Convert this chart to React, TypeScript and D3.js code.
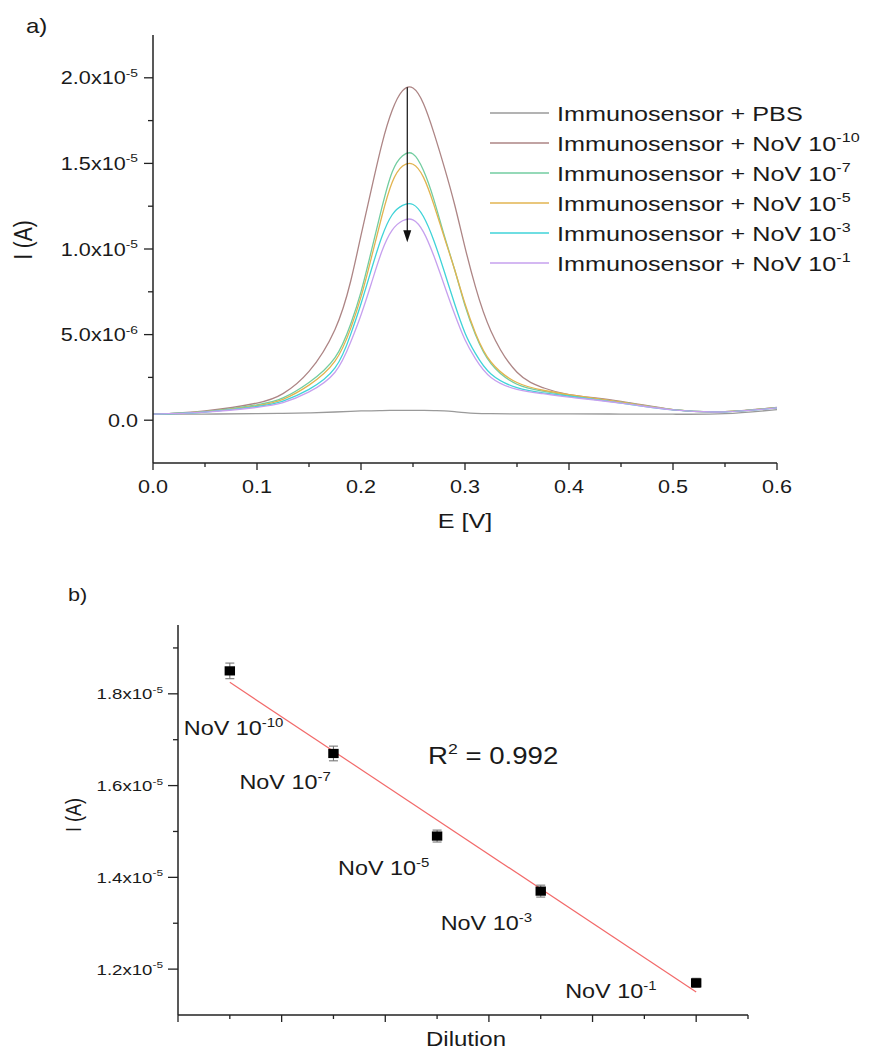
import React from "react";
import * as d3 from "d3";

// ---- a) DPV curves: potential (V) and current (µA) ----
const potentials = [0, 0.05, 0.1, 0.125, 0.15, 0.175, 0.19, 0.2, 0.21, 0.22, 0.23, 0.24, 0.25, 0.26, 0.27, 0.28, 0.29, 0.3, 0.31, 0.325, 0.35, 0.375, 0.4, 0.45, 0.5, 0.55, 0.6];
const pbs = [0.35, 0.36, 0.38, 0.4, 0.43, 0.48, 0.52, 0.54, 0.55, 0.56, 0.57, 0.57, 0.57, 0.57, 0.56, 0.55, 0.5, 0.44, 0.4, 0.38, 0.37, 0.37, 0.37, 0.36, 0.35, 0.38, 0.62];
const nov10 = [0.35, 0.55, 1.0, 1.55, 2.85, 5.3, 8.1, 10.8, 13.5, 16.1, 18.1, 19.25, 19.4, 18.5, 16.8, 14.8, 12.6, 10.1, 7.8, 5.2, 2.8, 1.9, 1.5, 1.1, 0.62, 0.5, 0.75];
const nov7 = [0.35, 0.5, 0.9, 1.3, 2.2, 3.65, 5.6, 7.5, 9.9, 12.4, 14.5, 15.45, 15.55, 14.6, 12.9, 10.8, 8.8, 6.7, 5.0, 3.3, 2.1, 1.7, 1.45, 1.05, 0.62, 0.5, 0.74];
const nov5 = [0.35, 0.5, 0.85, 1.22, 2.05, 3.45, 5.35, 7.2, 9.5, 11.9, 13.9, 14.85, 14.95, 14.2, 12.6, 10.7, 8.8, 6.8, 5.1, 3.4, 2.2, 1.75, 1.5, 1.05, 0.62, 0.5, 0.74];
const nov3 = [0.35, 0.48, 0.8, 1.12, 1.8, 3.05, 5.0, 6.8, 8.8, 10.7, 12.0, 12.55, 12.6, 11.9, 10.5, 8.7, 6.8, 5.1, 3.9, 2.7, 1.9, 1.6, 1.4, 1.0, 0.6, 0.49, 0.72];
const nov1 = [0.35, 0.47, 0.75, 1.02, 1.65, 2.8, 4.55, 6.15, 8.0, 9.85, 11.1, 11.65, 11.7, 11.0, 9.6, 7.9, 6.2, 4.7, 3.6, 2.5, 1.8, 1.55, 1.35, 1.0, 0.6, 0.49, 0.72];
const curveNames = ["Immunosensor + PBS", "Immunosensor + NoV 10", "Immunosensor + NoV 10", "Immunosensor + NoV 10", "Immunosensor + NoV 10", "Immunosensor + NoV 10"];
const curveExp = ["", "-10", "-7", "-5", "-3", "-1"];
const curveColors = ["#9a9a9a", "#ad8585", "#72cda0", "#e2b450", "#3fd3d8", "#c6a0ee"];

// ---- b) calibration: dilution vs. peak current ----
const dilutionNames = ["NoV 10", "NoV 10", "NoV 10", "NoV 10", "NoV 10"];
const dilutionExp = ["-10", "-7", "-5", "-3", "-1"];
const dilutionPos = [1, 3, 5, 7, 10];
const peakCurrent = [1.85e-5, 1.67e-5, 1.49e-5, 1.37e-5, 1.17e-5];
const peakError = [0.017e-5, 0.016e-5, 0.013e-5, 0.013e-5, 0.01e-5];
const rSquared = "0.992";

const FONT = '"Liberation Sans", Arial, Helvetica, sans-serif';
const SX = 1.2; // the original figure is stretched sideways
const AXIS = "#222";

function Txt({ x, y, size, text, sup, after, anchor = "start", rotate = 0 }: any) {
  const tr = `translate(${x},${y}) scale(${SX},1)` + (rotate ? ` rotate(${rotate})` : "");
  return (
    <g transform={tr}>
      <text fontFamily={FONT} fontSize={size} textAnchor={anchor} fill="#1a1a1a">
        {text}
        {sup ? (
          <tspan fontSize={size * 0.64} dy={-size * 0.42}>
            {sup}
          </tspan>
        ) : null}
        {after ? (
          <tspan fontSize={size} dy={size * 0.42}>
            {after}
          </tspan>
        ) : null}
      </text>
    </g>
  );
}

const sci = (v: number): [string, string] => {
  if (Math.abs(v) < 1e-12) return ["0.0", ""];
  const [m, e] = v.toExponential(1).split("e");
  return [m + "x10", String(+e)];
};

export default function App() {
  // scales for a)
  const xA = d3.scaleLinear().domain([0, 0.6]).range([153, 777]);
  const yA = d3.scaleLinear().domain([-2.5e-6, 2.25e-5]).range([463, 35]);
  const line = d3
    .line<[number, number]>()
    .x((d) => xA(d[0]))
    .y((d) => yA(d[1] * 1e-6))
    .curve(d3.curveNatural);
  const curves = [pbs, nov10, nov7, nov5, nov3, nov1];

  const yAMajor = yA.ticks(5);
  const yAMinor = yAMajor.map((v) => v + 2.5e-6).filter((v) => v < 2.25e-5);
  const xAMajor = xA.ticks(6);
  const xAMinor = xAMajor.map((v) => v + 0.05).filter((v) => v < 0.6);

  // arrow through the peaks
  const arrowX = xA(0.2445);
  const arrowTop = yA(1.945e-5);
  const arrowTip = yA(1.04e-5);

  // scales for b)
  const xB = d3.scaleLinear().domain([0, 11]).range([178, 748]);
  const yB = d3.scaleLinear().domain([1.1e-5, 1.95e-5]).range([1015, 625]);
  const yBMajor = yB.ticks(4);
  const yBMinor = yBMajor.map((v) => v + 1e-6).filter((v) => v < 1.95e-5);
  const xBTicks = d3.range(0, 12);

  // linear fit
  const mx = d3.mean(dilutionPos)!;
  const my = d3.mean(peakCurrent)!;
  const sxy = d3.sum(dilutionPos, (x, i) => (x - mx) * (peakCurrent[i] - my));
  const sxx = d3.sum(dilutionPos, (x) => (x - mx) ** 2);
  const slope = sxy / sxx;
  const fit = (x: number) => my + slope * (x - mx);
  const x0 = dilutionPos[0];
  const x1 = dilutionPos[dilutionPos.length - 1];

  const labelOffsets = [
    [-46, 64],
    [-94, 36],
    [-99, 39],
    [-100, 39],
    [-131, 15],
  ];

  return (
    <svg width={872} height={1050} style={{ position: "absolute", left: 0, top: 0, background: "#fff" }}>
      {/* ---------------- a) ---------------- */}
      <Txt x={26} y={33} size={20} text="a)" />
      <Txt x={32} y={240} size={21} text="I (A)" anchor="middle" rotate={-90} />
      <Txt x={xA(0.3)} y={528} size={21} text="E [V]" anchor="middle" />

      {curves.map((c, i) => (
        <path
          key={i}
          d={line(potentials.map((e, j) => [e, c[j]]) as [number, number][])!}
          fill="none"
          stroke={curveColors[i]}
          strokeWidth={1.3}
        />
      ))}

      <line x1={arrowX} x2={arrowX} y1={arrowTop} y2={arrowTip - 10} stroke="#111" strokeWidth={1.2} />
      <path d={`M${arrowX - 4},${arrowTip - 12} L${arrowX + 4},${arrowTip - 12} L${arrowX},${arrowTip} Z`} fill="#111" />

      {/* axes a */}
      <line x1={153} x2={153} y1={35} y2={463} stroke={AXIS} strokeWidth={1.5} />
      <line x1={153} x2={777} y1={463} y2={463} stroke={AXIS} strokeWidth={1.5} />
      {yAMajor.map((v) => {
        const [t, s] = sci(v);
        return (
          <g key={"ya" + v}>
            <line x1={144} x2={153} y1={yA(v)} y2={yA(v)} stroke={AXIS} strokeWidth={1.3} />
            <Txt x={138} y={yA(v) + 6.5} size={18} text={t} sup={s} anchor="end" />
          </g>
        );
      })}
      {yAMinor.map((v) => (
        <line key={"yam" + v} x1={148} x2={153} y1={yA(v)} y2={yA(v)} stroke={AXIS} strokeWidth={1.3} />
      ))}
      {xAMajor.map((v) => (
        <g key={"xa" + v}>
          <line x1={xA(v)} x2={xA(v)} y1={463} y2={470} stroke={AXIS} strokeWidth={1.3} />
          <Txt x={xA(v)} y={493} size={18} text={d3.format(".1f")(v)} anchor="middle" />
        </g>
      ))}
      {xAMinor.map((v) => (
        <line key={"xam" + v} x1={xA(v)} x2={xA(v)} y1={463} y2={467} stroke={AXIS} strokeWidth={1.3} />
      ))}

      {/* legend */}
      {curveNames.map((n, i) => {
        const y = 113 + i * 30;
        return (
          <g key={"lg" + i}>
            <line x1={490} x2={549} y1={y} y2={y} stroke={curveColors[i]} strokeWidth={1.5} />
            <Txt x={557} y={y + 7.5} size={21} text={n} sup={curveExp[i]} />
          </g>
        );
      })}

      {/* ---------------- b) ---------------- */}
      <Txt x={68} y={601} size={18} text="b)" />
      <Txt x={81} y={815} size={18} text="I (A)" anchor="middle" rotate={-90} />
      <Txt x={466} y={1046} size={20} text="Dilution" anchor="middle" />

      <line x1={178} x2={178} y1={625} y2={1015} stroke={AXIS} strokeWidth={1.5} />
      <line x1={178} x2={748} y1={1015} y2={1015} stroke={AXIS} strokeWidth={1.5} />
      {yBMajor.map((v) => {
        const [t, s] = sci(v);
        return (
          <g key={"yb" + v}>
            <line x1={168} x2={178} y1={yB(v)} y2={yB(v)} stroke={AXIS} strokeWidth={1.3} />
            <Txt x={163} y={yB(v) + 5.5} size={15.5} text={t} sup={s} anchor="end" />
          </g>
        );
      })}
      {yBMinor.map((v) => (
        <line key={"ybm" + v} x1={173} x2={178} y1={yB(v)} y2={yB(v)} stroke={AXIS} strokeWidth={1.3} />
      ))}
      {xBTicks.map((v) => (
        <line key={"xb" + v} x1={xB(v)} x2={xB(v)} y1={1015} y2={v % 2 === 0 ? 1022 : 1019} stroke={AXIS} strokeWidth={1.3} />
      ))}

      <line x1={xB(x0)} x2={xB(x1)} y1={yB(fit(x0))} y2={yB(fit(x1))} stroke="#f26a6a" strokeWidth={1.2} />

      {dilutionPos.map((p, i) => {
        const cx = xB(p);
        const hi = yB(peakCurrent[i] + peakError[i]);
        const lo = yB(peakCurrent[i] - peakError[i]);
        return (
          <g key={"pt" + i}>
            <line x1={cx} x2={cx} y1={hi} y2={lo} stroke="#777" strokeWidth={1.1} />
            <line x1={cx - 4.5} x2={cx + 4.5} y1={hi} y2={hi} stroke="#777" strokeWidth={1.1} />
            <line x1={cx - 4.5} x2={cx + 4.5} y1={lo} y2={lo} stroke="#777" strokeWidth={1.1} />
            <rect x={cx - 5.2} y={yB(peakCurrent[i]) - 4.6} width={10.4} height={9.2} fill="#000" />
          </g>
        );
      })}

      {dilutionNames.map((n, i) => (
        <Txt
          key={"dl" + i}
          x={xB(dilutionPos[i]) + labelOffsets[i][0]}
          y={yB(peakCurrent[i]) + labelOffsets[i][1]}
          size={19.5}
          text={n}
          sup={dilutionExp[i]}
        />
      ))}

      <Txt x={428} y={764} size={23} text="R" sup="2" after={" = " + rSquared} />
    </svg>
  );
}
